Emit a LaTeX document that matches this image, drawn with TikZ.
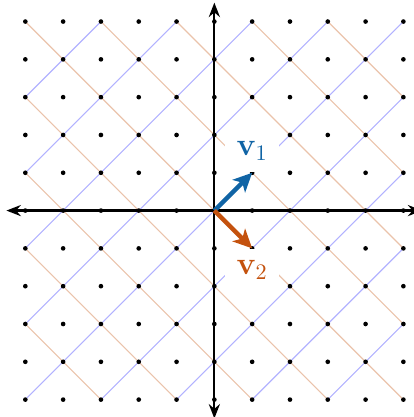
\documentclass[tikz,border=0pt]{standalone}
\usetikzlibrary{arrows.meta}
\definecolor{vone}{RGB}{16,100,165}
\definecolor{vtwo}{RGB}{196,82,14}
\tikzset{
  bluegrid/.style={blue!30, line width=0.5pt},
  orangegrid/.style={vtwo!35, line width=0.5pt},
  axisline/.style={line width=1pt, {Stealth[length=6.5pt,width=5pt]}-{Stealth[length=6.5pt,width=5pt]}},
  vecarrow/.style={line width=2pt, -{Stealth[length=8.5pt,width=8pt,inset=2.2pt]}},
  veclabel/.style={fill=white, inner sep=0pt, minimum width=0.86cm, minimum height=0.67cm, font=\fontsize{14}{16}\selectfont}
}
\begin{document}
\begin{tikzpicture}[x=0.6cm,y=0.6cm]
\useasboundingbox (-5.67,-5.46) rectangle (5.28,5.57);
\begin{scope}
  \clip (-5,-5) rectangle (5,5);
  \foreach \c in {-8,-6,...,8} {
    \draw[bluegrid] (-10,-10+\c) -- (10,10+\c);
    \draw[orangegrid] (-10,10+\c) -- (10,-10+\c);
  }
\end{scope}
\foreach \i in {-5,...,5} {
  \foreach \j in {-5,...,5} {
    \fill (\i,\j) circle (1.05pt);
  }
}
\coordinate (O) at (0,0);
\coordinate (xl) at (-5.5,0);
\coordinate (xr) at (5.5,0);
\coordinate (yb) at (0,-5.5);
\coordinate (yt) at (0,5.5);
\coordinate (p1) at (1,1);
\coordinate (p2) at (1,-1);
\draw[axisline] (xl) -- (xr);
\draw[axisline] (yb) -- (yt);
\node[veclabel, anchor=south, text=vone] (l1) at (p1) {$\mathbf{v}_1$};
\node[veclabel, anchor=north, text=vtwo] (l2) at (p2) {$\mathbf{v}_2$};
\draw[vecarrow, vone] (O) -- (p1);
\draw[vecarrow, vtwo] (O) -- (p2);
\end{tikzpicture}
\end{document}
